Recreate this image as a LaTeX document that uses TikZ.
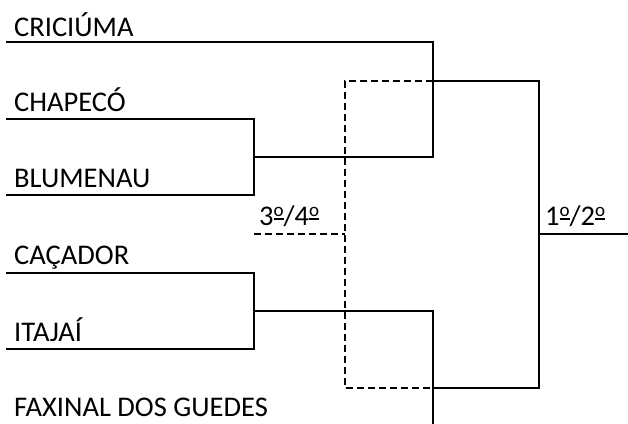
\documentclass[tikz,border=0pt]{standalone}
\usepackage{fontspec}
\setmainfont{Carlito}
\newcommand\ordm{\raisebox{5.5pt}{\vbox{\hbox{\fontsize{19}{19}\selectfont o}\kern1.2pt\hrule height 1.5pt}}}
\begin{document}
\begin{tikzpicture}[x=1pt,y=-1pt,
  team/.style={anchor=base west,inner sep=0pt,font=\fontsize{28.5}{30}\selectfont},
  lbl/.style={anchor=base west,inner sep=0pt,font=\fontsize{28.5}{30}\selectfont},
  solidline/.style={line width=2.2pt,line cap=rect},
  dashline/.style={line width=2.2pt,dash pattern=on 7pt off 4pt}]
\useasboundingbox (0,0) rectangle (628,423);
% team labels
\node[team] (cri) at (14,36) {CRICIÚMA};
\node[team] (cha) at (14,111) {CHAPECÓ};
\node[team] (blu) at (14,187) {BLUMENAU};
\node[team] (cac) at (14,264) {CAÇADOR};
\node[team] (ita) at (14,341) {ITAJAÍ};
\node[team] (fax) at (14,416) {FAXINAL DOS GUEDES};
\node[lbl] (l34) at (259,225) {3\ordm/4\ordm};
\node[lbl] (l12) at (545,225) {1\ordm/2\ordm};
% coordinates
\coordinate (criL) at (7,42);   \coordinate (criR) at (433,42);
\coordinate (chaL) at (7,119);  \coordinate (chaR) at (254,119);
\coordinate (bluL) at (7,195);  \coordinate (bluR) at (254,195);
\coordinate (cacL) at (7,273);  \coordinate (cacR) at (254,273);
\coordinate (itaL) at (7,349);  \coordinate (itaR) at (254,349);
\coordinate (s1m) at (254,157); \coordinate (s1r) at (433,157);
\coordinate (s2m) at (254,311); \coordinate (s2r) at (433,311);
\coordinate (f1m) at (433,81);  \coordinate (f1r) at (539,81);
\coordinate (f2m) at (433,388); \coordinate (f2r) at (539,388);
\coordinate (faxB) at (433,424);
\coordinate (finM) at (539,234); \coordinate (finR) at (629,234);
\coordinate (dTL) at (345,81); \coordinate (dBL) at (345,388);
\coordinate (dM) at (345,234); \coordinate (dL) at (254,234);
% solid bracket
\draw[solidline] (criL) -- (criR) -- (s1r) -- (s1m);
\draw[solidline] (chaL) -- (chaR) -- (bluR) -- (bluL);
\draw[solidline] (cacL) -- (cacR) -- (itaR) -- (itaL);
\draw[solidline] (s2m) -- (s2r) -- (faxB);
\draw[solidline] (f1m) -- (f1r) -- (f2r) -- (f2m);
\draw[solidline] (finM) -- (finR);
% dashed third-place bracket
\draw[dashline] (f1m) -- (dTL) -- (dBL) -- (f2m);
\draw[dashline] (dL) -- (dM);
\end{tikzpicture}
\end{document}
